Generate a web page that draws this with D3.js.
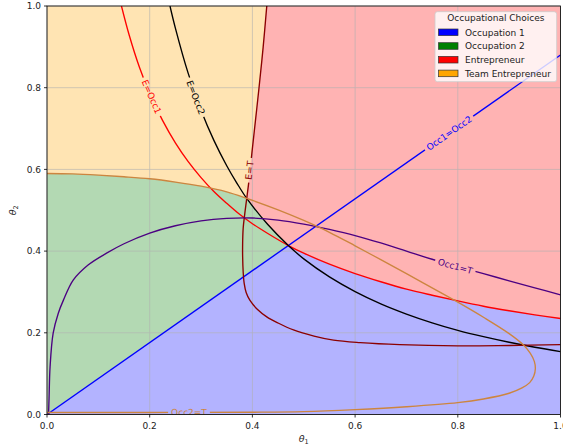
<!DOCTYPE html>
<html><head><meta charset="utf-8">
<script src="https://cdn.jsdelivr.net/npm/d3@7"></script>
<style>body{margin:0;background:#fff}text{font-family:"DejaVu Sans",sans-serif}</style>
</head><body><div id="chart"></div>
<script>
// ---------- data ----------
const xTicks = [0, 0.2, 0.4, 0.6, 0.8, 1.0];
const yTicks = [0, 0.2, 0.4, 0.6, 0.8, 1.0];
const legendTitle = "Occupational Choices";
const legendLabels = ["Occupation 1", "Occupation 2", "Entrepreneur", "Team Entrepreneur"];
const legendColors = ["#0000ff", "#008000", "#ff0000", "#ffa500"];

// boundary curves (theta1, theta2)
const occ1Occ2 = [[0,0],[1,0.88]];
const eOcc1 = [[0.145,1.0],[0.16,0.929],[0.18,0.850],[0.2,0.786],[0.225,0.720],[0.25,0.665],[0.275,0.619],[0.3,0.580],[0.325,0.546],[0.35,0.517],[0.375,0.490],[0.4,0.467],[0.43,0.443],[0.47,0.4136],[0.5,0.395],[0.55,0.368],[0.6,0.345],[0.65,0.325],[0.7,0.307],[0.75,0.292],[0.8,0.278],[0.85,0.265],[0.9,0.254],[0.95,0.244],[1.0,0.235]];
const eOcc2 = [[0.2395,1.0],[0.25,0.946],[0.275,0.835],[0.3,0.745],[0.325,0.671],[0.35,0.609],[0.37,0.566],[0.389,0.529],[0.43,0.465],[0.47,0.4136],[0.5,0.381],[0.55,0.337],[0.6,0.301],[0.65,0.271],[0.7,0.246],[0.75,0.2245],[0.8,0.206],[0.85,0.1905],[0.9,0.1768],[0.95,0.1647],[1.0,0.154]];
const eT = [[0.428,1.0],[0.421,0.90],[0.413,0.801],[0.406,0.72],[0.399,0.640],[0.394,0.58],[0.389,0.529],[0.385,0.49],[0.382,0.455],[0.381,0.42],[0.381,0.386],[0.382,0.35],[0.384,0.321],[0.388,0.298],[0.395,0.280],[0.41,0.257],[0.428,0.239],[0.45,0.224],[0.48,0.207],[0.52,0.192],[0.558,0.182],[0.61,0.176],[0.687,0.171],[0.8,0.168],[0.9,0.169],[1.0,0.171]];
const occ1T = [[0.003,0],[0.004,0.04],[0.006,0.117],[0.012,0.199],[0.022,0.248],[0.032,0.280],[0.051,0.329],[0.08,0.366],[0.116,0.395],[0.15,0.418],[0.2,0.444],[0.25,0.462],[0.3,0.474],[0.35,0.480],[0.4,0.481],[0.45,0.476],[0.5,0.466],[0.55,0.453],[0.6,0.438],[0.65,0.420],[0.7,0.400],[0.75,0.380],[0.8,0.362],[0.85,0.345],[0.9,0.327],[0.95,0.310],[1.0,0.293]];
const occ2TUpper = [[0,0.590],[0.05,0.589],[0.1,0.586],[0.15,0.582],[0.2,0.577],[0.25,0.569],[0.3,0.559],[0.35,0.545],[0.389,0.529],[0.45,0.501],[0.5,0.475],[0.55,0.446],[0.6,0.413],[0.65,0.379],[0.7,0.345],[0.75,0.310],[0.8,0.275],[0.85,0.238],[0.9,0.198],[0.928,0.170],[0.941,0.150],[0.949,0.130],[0.951,0.112]];
const occ2TLower = [[0.951,0.112],[0.948,0.094],[0.940,0.078],[0.925,0.065],[0.9,0.052],[0.85,0.038],[0.8,0.029],[0.7,0.019],[0.6,0.012],[0.5,0.007],[0.4,0.0055],[0.2,0.005],[0,0.005]];
// triple points where regions meet
const junctions = [[0.389,0.529],[0.47,0.4136]];

// contour labels (name, position)
const curveLabels = [
  {curve:"E=Occ1", pos:[0.2039,0.778]},
  {curve:"E=Occ2", pos:[0.2898,0.776]},
  {curve:"E=T", pos:[0.394,0.598]},
  {curve:"Occ1=Occ2", pos:[0.783,0.689]},
  {curve:"Occ1=T", pos:[0.795,0.363]},
  {curve:"Occ2=T", pos:[0.2765,0.0055]}
];

// ---------- layout ----------
const W = 563, H = 448;
const L = 47, R = 560.5, T = 6, B = 414.5;
const x = d3.scaleLinear().domain([0,1]).range([L,R]);
const y = d3.scaleLinear().domain([0,1]).range([B,T]);

const svg = d3.select("#chart").append("svg").attr("width",W).attr("height",H).style("display","block");
svg.append("rect").attr("width",W).attr("height",H).attr("fill","#fff");
const defs = svg.append("defs");
defs.append("clipPath").attr("id","plotclip").append("rect").attr("x",L).attr("y",T).attr("width",R-L).attr("height",B-T);

const line = d3.line().x(d=>x(d[0])).y(d=>y(d[1]));
const smooth = d3.line().x(d=>x(d[0])).y(d=>y(d[1])).curve(d3.curveCatmullRom.alpha(0.5));
const blend = c => d3.interpolateRgb("#ffffff", c)(0.3);

// ---------- regions ----------
const [A, Bj] = junctions;
const [x0,x1] = x.domain(), [y0,y1] = y.domain();
const regions = [
  {color: legendColors[3], poly: [[x0,y0],[x1,y0],[x1,y1],[x0,y1]]},
  {color: legendColors[2], poly: [
      ...eT.filter(p=>p[1]>=A[1]),
      ...eOcc2.filter(p=>p[0]>A[0] && p[0]<=Bj[0]),
      ...eOcc1.filter(p=>p[0]>Bj[0]),
      [x1,y1]]},
  {color: legendColors[1], poly: [
      [x0,y0],
      ...occ2TUpper.filter(p=>p[0]<=A[0]),
      ...eOcc2.filter(p=>p[0]>A[0] && p[0]<=Bj[0])]},
  {color: legendColors[0], poly: [
      [x0,y0],
      ...eOcc1.filter(p=>p[0]>=Bj[0]),
      [x1,y0]]}
];
const gFill = svg.append("g").attr("clip-path","url(#plotclip)");
regions.forEach(r=>{
  gFill.append("path").attr("d", line(r.poly)+"Z").attr("fill", blend(r.color)).attr("stroke", blend(r.color)).attr("stroke-width",0.3);
});

// ---------- grid ----------
const gGrid = svg.append("g").attr("stroke","#b0b0b0").attr("stroke-width",0.8).attr("opacity",0.75);
xTicks.forEach(t=>gGrid.append("line").attr("x1",x(t)).attr("x2",x(t)).attr("y1",T).attr("y2",B));
yTicks.forEach(t=>gGrid.append("line").attr("y1",y(t)).attr("y2",y(t)).attr("x1",L).attr("x2",R));

// ---------- curves ----------
const curves = [
  {name:"Occ1=Occ2", pts: occ1Occ2, color:"#0000ff"},
  {name:"E=Occ1", pts: eOcc1, color:"#ff0000"},
  {name:"E=Occ2", pts: eOcc2, color:"#000000"},
  {name:"E=T", pts: eT, color:"#8b0000"},
  {name:"Occ1=T", pts: occ1T, color:"#4b0082"},
  {name:"Occ2=T", pts: occ2TUpper.concat(occ2TLower.slice(1)), color:"#cd853f"}
];
const masks = {};
curves.forEach((c,i)=>{
  const m = defs.append("mask").attr("id","mask"+i).attr("maskUnits","userSpaceOnUse")
    .attr("x",0).attr("y",0).attr("width",W).attr("height",H);
  m.append("rect").attr("width",W).attr("height",H).attr("fill","#fff");
  masks[c.name] = m;
});
const gCurves = svg.append("g").attr("clip-path","url(#plotclip)");
curves.forEach((c,i)=>{
  gCurves.append("path").attr("d", smooth(c.pts)).attr("fill","none")
    .attr("stroke", c.color).attr("stroke-width",1.35).attr("mask","url(#mask"+i+")");
});

// ---------- contour labels ----------
const gLab = svg.append("g").attr("clip-path","url(#plotclip)");
curveLabels.forEach(l=>{
  const c = curves.find(k=>k.name===l.curve);
  const px = x(l.pos[0]), py = y(l.pos[1]);
  let best=0, bd=Infinity;
  c.pts.forEach((p,i)=>{const d=(x(p[0])-px)**2+(y(p[1])-py)**2; if(d<bd){bd=d;best=i;}});
  const a = c.pts[Math.max(0,best-1)], b = c.pts[Math.min(c.pts.length-1,best+1)];
  let ang = Math.atan2(y(b[1])-y(a[1]), x(b[0])-x(a[0]))*180/Math.PI;
  if (ang>90) ang-=180; if (ang<-90) ang+=180;
  const tr = `translate(${px},${py}) rotate(${ang})`;
  const t = gLab.append("text").attr("transform",tr).attr("text-anchor","middle")
    .attr("dy","0.36em").attr("fill",c.color).style("font-size","9px").text(c.name);
  const len = t.node().getComputedTextLength();
  masks[c.name].append("rect").attr("transform",tr).attr("x",-len/2-3).attr("y",-5)
    .attr("width",len+6).attr("height",10).attr("fill","#000");
});

// ---------- axes ----------
const gAx = svg.append("g");
gAx.append("rect").attr("x",L).attr("y",T).attr("width",R-L).attr("height",B-T)
  .attr("fill","none").attr("stroke","#000").attr("stroke-width",0.8);
const fmt = d3.format(".1f");
xTicks.forEach(t=>{
  gAx.append("line").attr("x1",x(t)).attr("x2",x(t)).attr("y1",B).attr("y2",B+3).attr("stroke","#000").attr("stroke-width",0.8);
  gAx.append("text").attr("x",x(t)).attr("y",B+14.5).attr("text-anchor","middle").style("font-size","9px").attr("fill","#222").text(fmt(t));
});
yTicks.forEach(t=>{
  gAx.append("line").attr("x1",L-3).attr("x2",L).attr("y1",y(t)).attr("y2",y(t)).attr("stroke","#000").attr("stroke-width",0.8);
  gAx.append("text").attr("x",L-6).attr("y",y(t)).attr("dy","0.35em").attr("text-anchor","end").style("font-size","9px").attr("fill","#222").text(fmt(t));
});
const xl = gAx.append("text").attr("x",(L+R)/2).attr("y",441.5).attr("text-anchor","middle").style("font-size","9.5px").attr("fill","#222");
xl.append("tspan").style("font-style","italic").text("θ");
xl.append("tspan").attr("dy",2).style("font-size","6.5px").text("1");
const yl = gAx.append("text").attr("transform",`translate(16,${(T+B)/2}) rotate(-90)`).attr("text-anchor","middle").style("font-size","9.5px").attr("fill","#222");
yl.append("tspan").style("font-style","italic").text("θ");
yl.append("tspan").attr("dy",2).style("font-size","6.5px").text("2");

// ---------- legend ----------
const lg = svg.append("g");
const lx = 435, ly = 11.7, lw = 121.7, lh = 70;
lg.append("rect").attr("x",lx).attr("y",ly).attr("width",lw).attr("height",lh).attr("rx",2.5)
  .attr("fill","#fff").attr("fill-opacity",0.8).attr("stroke","#cccccc").attr("stroke-width",0.8);
lg.append("text").attr("x",lx+lw/2).attr("y",ly+9.3).attr("text-anchor","middle").style("font-size","9px").attr("fill","#222").text(legendTitle);
legendLabels.forEach((lab,i)=>{
  const cy = 32.3 + i*13.7;
  lg.append("rect").attr("x",438.5).attr("y",cy-3.3).attr("width",19.5).attr("height",6.6)
    .attr("fill",legendColors[i]).attr("stroke","#333").attr("stroke-width",0.7);
  lg.append("text").attr("x",465).attr("y",cy+3.2).style("font-size","9px").attr("fill","#222").text(lab);
});
</script>
</body></html>
